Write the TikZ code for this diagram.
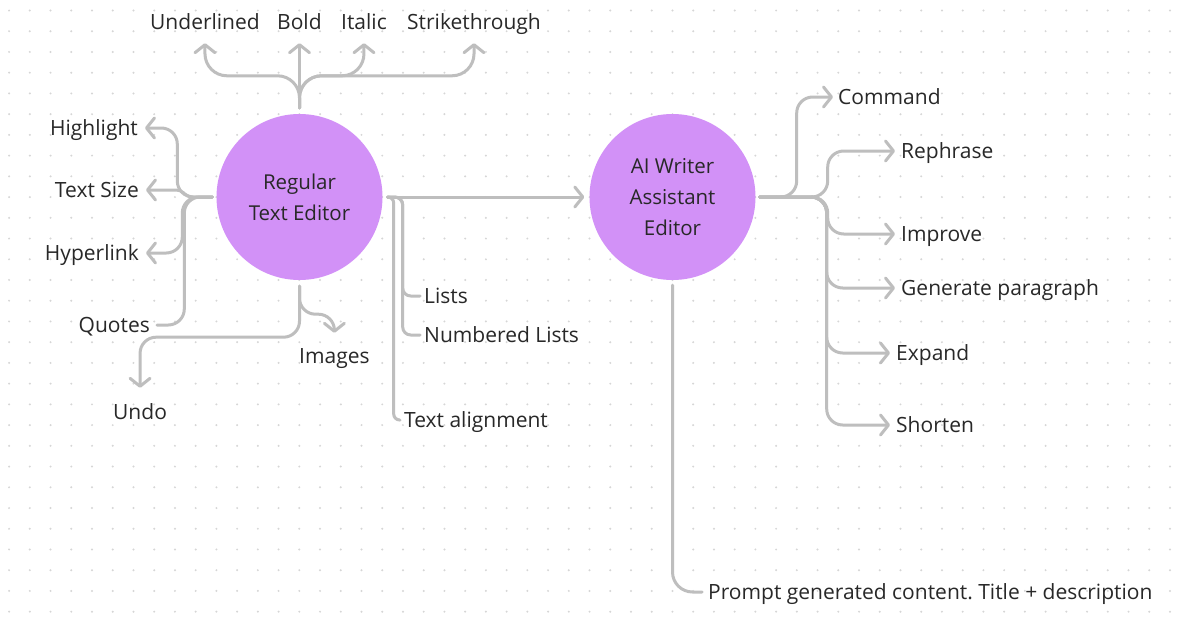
\documentclass[tikz,border=0pt]{standalone}
\usepackage{fontspec}
\setmainfont{Open Sans}
\usetikzlibrary{arrows.meta}
\frenchspacing

\definecolor{editorpurple}{RGB}{210,145,247}
\definecolor{linegray}{RGB}{190,190,190}
\definecolor{textgray}{RGB}{40,40,40}
\definecolor{dotgray}{RGB}{214,214,214}

\begin{document}
\begin{tikzpicture}[x=1pt, y=-1pt,
        editor/.style={circle, fill=editorpurple, minimum size=166pt, inner sep=0pt, align=center, text=textgray, font=\fontsize{20.5}{31}\selectfont},
        lbl/.style={inner sep=0pt, text=textgray, font=\fontsize{21}{25}\selectfont, text height=15pt, text depth=1pt},
        branch/.style={draw=linegray, line width=3pt, rounded corners=16pt, line cap=round, -{Straight Barb[length=8pt, width=20pt, round]}},
        stub/.style={draw=linegray, line width=3pt, rounded corners=16pt, line cap=round}
    ]
        \useasboundingbox (0,0) rectangle (1192,629);
        \fill[white] (0,0) rectangle (1192,629);
        % dotted canvas
        \foreach \i in {0,...,56}
            \foreach \j in {0,...,29}
                \fill[dotgray] (9.1+20.73*\i, 10.5+20.73*\j) circle (1.1pt);

        \node[editor] (reg) at (299.5,197) {Regular\\Text Editor};
        \node[editor] (ai) at (672.5,197) {AI Writer\\Assistant\\Editor};

        % labels round the regular editor
        \node[lbl, anchor=west] (under) at (150,23) {Underlined};
        \node[lbl, anchor=west] (bold) at (277,23) {Bold};
        \node[lbl, anchor=west] (ital) at (341,23) {Italic};
        \node[lbl, anchor=west] (strike) at (407,23) {Strikethrough};
        \node[lbl, anchor=east] (hl) at (138,128) {Highlight};
        \node[lbl, anchor=east] (ts) at (139,190) {Text Size};
        \node[lbl, anchor=east] (hyp) at (139,253) {Hyperlink};
        \node[lbl, anchor=east] (quo) at (150,325) {Quotes};
        \node[lbl, anchor=west] (img) at (299,356) {Images};
        \node[lbl, anchor=west] (undo) at (113,412) {Undo};
        \node[lbl, anchor=west] (lists) at (424,296) {Lists};
        \node[lbl, anchor=west] (nlists) at (424,335) {Numbered Lists};
        \node[lbl, anchor=west] (talign) at (404,420) {Text alignment};

        % labels round the assistant
        \node[lbl, anchor=west] (cmd) at (838,97) {Command};
        \node[lbl, anchor=west] (reph) at (901,151) {Rephrase};
        \node[lbl, anchor=west] (imp) at (901,234) {Improve};
        \node[lbl, anchor=west] (gen) at (901,288) {Generate paragraph};
        \node[lbl, anchor=west] (exp) at (896,353) {Expand};
        \node[lbl, anchor=west] (short) at (896,425) {Shorten};
        \node[lbl, anchor=west] (prompt) at (708,592) {Prompt generated content. Title + description};

        % top fork
        \coordinate (topfork) at ([yshift=38pt]reg.north);
        \draw[branch] ([yshift=6pt]reg.north) -- ([yshift=-12pt]reg.north |- bold.south);
        \draw[branch, rounded corners=22pt] ([yshift=6pt]reg.north) -- (topfork) -| ([yshift=-12pt]under.south);
        \draw[branch, rounded corners=22pt] ([yshift=6pt]reg.north) -- (topfork) -| ([yshift=-12pt]ital.south);
        \draw[branch, rounded corners=22pt] ([yshift=6pt]reg.north) -- (topfork) -| ([yshift=-12pt]strike.south);

        % left fork
        \draw[branch] ([xshift=-4pt]reg.west) -- ++(-35,0) |- ([xshift=7pt]hl.east);
        \draw[branch, rounded corners=4pt] ([xshift=-4pt]reg.west) -- ++(-24,0) -- ++(-8,-7) -- ([xshift=7pt]ts.east);
        \draw[branch] ([xshift=-4pt]reg.west) -- ++(-30,0) |- ([xshift=7pt]hyp.east);
        \draw[stub] ([xshift=-4pt]reg.west) -- ++(-28,0) |- ([xshift=7pt]quo.east);

        % bottom fork
        \draw[branch] ([yshift=-6pt]reg.south) -- ++(0,28) -| ([yshift=15pt]img.north);
        \draw[branch] ([yshift=-6pt]reg.south) -- ++(0,51) -| ([yshift=16pt]undo.north);

        % link between the editors
        \draw[branch] ([xshift=5pt]reg.east) -- ([xshift=-5pt]ai.west);
        \draw[stub, rounded corners=8pt] ([xshift=5pt]reg.east) -- ++(15,0) |- ([xshift=-4pt]lists.west);
        \draw[stub, rounded corners=8pt] ([xshift=5pt]reg.east) -- ++(15,0) |- ([xshift=-4pt]nlists.west);
        \draw[stub, rounded corners=6pt] ([xshift=5pt]reg.east) -- ++(6,0) |- ([xshift=-4pt]talign.west);

        % assistant fork
        \draw[branch] ([xshift=4pt]ai.east) -- ++(37,0) |- ([xshift=-5pt]cmd.west);
        \draw[branch] ([xshift=4pt]ai.east) -- ++(68,0) |- ([xshift=-6pt]reph.west);
        \draw[branch] ([xshift=4pt]ai.east) -- ++(68,0) |- ([xshift=-6pt]imp.west);
        \draw[branch] ([xshift=4pt]ai.east) -- ++(67,0) |- ([xshift=-6pt]gen.west);
        \draw[branch] ([xshift=4pt]ai.east) -- ++(67,0) |- ([xshift=-6pt]exp.west);
        \draw[branch] ([xshift=4pt]ai.east) -- ++(67,0) |- ([xshift=-6pt]short.west);
        \draw[stub, rounded corners=20pt] ([yshift=-5pt]ai.south) |- ([xshift=-6pt]prompt.west);
    \end{tikzpicture}
\end{document}
